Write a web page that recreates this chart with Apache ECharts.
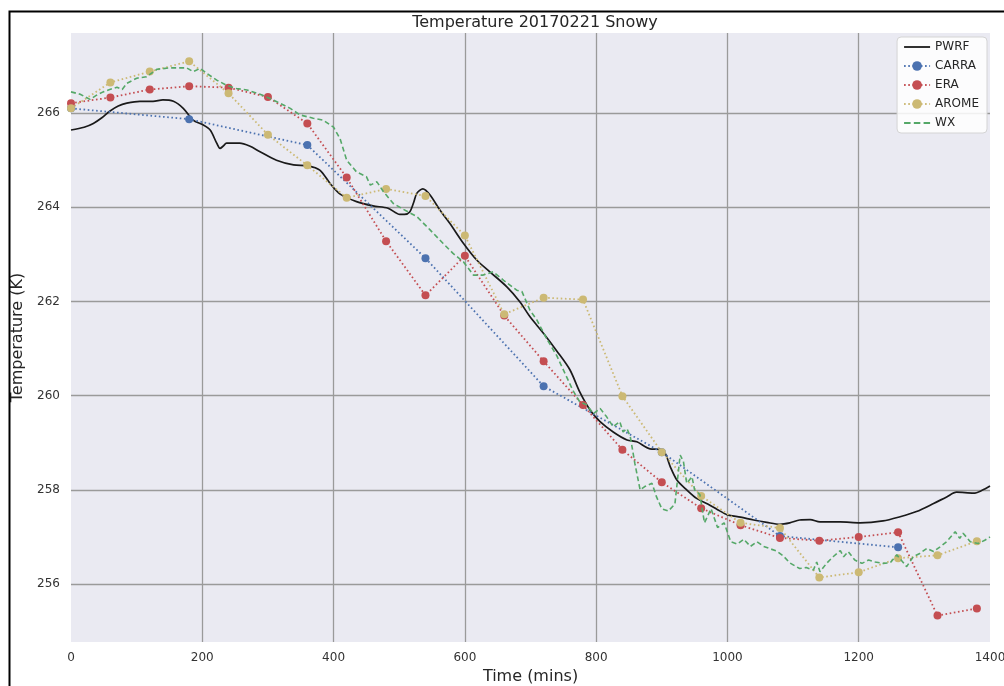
<!DOCTYPE html>
<html><head><meta charset="utf-8">
<script src="https://cdn.jsdelivr.net/npm/echarts@6/dist/echarts.min.js"></script>
<style>html,body{margin:0;padding:0;background:#fff;overflow:hidden;}#c{width:1004px;height:686px;}</style>
</head><body><div id="c"></div>
<script>
const xTicks = [0,200,400,600,800,1000,1200,1400];
const yTicks = [256,258,260,262,264,266];

const pwrfTime = [0,20,34,47,59,72,85,105,125,140,156,171,186,201,212,222,227,232,237,257,272,288,313,339,361,379,395,410,435,460,483,501,508,516,522,527,536,547,562,577,598,618,638,664,684,699,720,740,760,775,791,806,826,847,862,882,897,905,913,923,938,953,970,985,1000,1020,1040,1060,1080,1095,1110,1126,1141,1172,1202,1237,1263,1288,1314,1334,1349,1375,1388,1400];
const pwrfTemp = [265.64,265.7,265.78,265.9,266.04,266.15,266.21,266.25,266.25,266.28,266.25,266.1,265.85,265.75,265.64,265.36,265.25,265.3,265.36,265.36,265.3,265.18,265.0,264.9,264.88,264.79,264.5,264.28,264.12,264.03,263.98,263.85,263.85,263.9,264.1,264.3,264.39,264.26,263.94,263.66,263.23,262.88,262.63,262.31,261.99,261.68,261.32,260.95,260.55,260.08,259.69,259.45,259.23,259.06,259.02,258.87,258.86,258.78,258.49,258.21,258.0,257.82,257.7,257.58,257.47,257.42,257.36,257.31,257.27,257.3,257.36,257.37,257.32,257.32,257.3,257.34,257.43,257.54,257.71,257.85,257.95,257.93,257.99,258.08];

const carraTime = [0,180,360,540,720,900,1080,1260];
const carraTemp = [266.1,265.87,265.32,262.92,260.2,258.8,257.02,256.78];

const eraTime = [0,60,120,180,240,300,360,420,480,540,600,660,720,780,840,900,960,1020,1080,1140,1200,1260,1320,1380];
const eraTemp = [266.21,266.33,266.5,266.57,266.54,266.34,265.78,264.63,263.28,262.13,262.97,261.7,260.73,259.8,258.85,258.16,257.61,257.25,256.98,256.92,257.0,257.1,255.33,255.48];

const aromeTime = [0,60,120,180,240,300,360,420,480,540,600,660,720,780,840,900,960,1020,1080,1140,1200,1260,1320,1380];
const aromeTemp = [266.1,266.65,266.88,267.1,266.42,265.54,264.89,264.2,264.39,264.24,263.4,261.73,262.08,262.04,259.99,258.8,257.87,257.3,257.19,256.14,256.25,256.55,256.61,256.91];

const wxTime = [0,14,29,39,49,59,70,78,85,100,115,131,151,176,186,197,207,222,237,252,268,288,303,318,334,349,369,384,400,410,420,435,450,456,466,476,491,506,527,547,567,582,598,613,628,643,659,679,687,699,710,725,740,755,765,775,786,796,806,816,826,836,841,847,852,859,867,874,885,892,900,910,920,928,933,938,946,950,958,965,975,985,995,1005,1015,1025,1035,1045,1055,1065,1075,1085,1095,1110,1120,1131,1136,1141,1151,1161,1172,1177,1184,1194,1205,1215,1225,1237,1248,1258,1273,1283,1293,1304,1314,1324,1334,1347,1354,1359,1370,1382,1392,1400];
const wxTemp = [266.45,266.4,266.29,266.38,266.45,266.5,266.55,266.5,266.63,266.74,266.77,266.93,266.96,266.96,266.88,266.95,266.84,266.7,266.59,266.52,266.49,266.4,266.31,266.21,266.1,265.96,265.89,265.85,265.7,265.45,265.0,264.75,264.65,264.47,264.54,264.33,264.08,263.96,263.8,263.52,263.23,263.02,262.84,262.56,262.56,262.63,262.45,262.24,262.21,261.82,261.6,261.2,260.85,260.4,260.1,259.87,259.8,259.62,259.73,259.55,259.34,259.45,259.23,259.3,259.13,258.56,258.0,258.07,258.14,257.85,257.6,257.55,257.7,258.74,258.6,258.14,258.28,258.0,257.9,257.3,257.6,257.2,257.3,256.9,256.85,256.95,256.8,256.9,256.8,256.75,256.7,256.6,256.45,256.33,256.35,256.3,256.47,256.26,256.44,256.58,256.71,256.58,256.69,256.51,256.44,256.51,256.47,256.44,256.45,256.62,256.37,256.58,256.65,256.76,256.69,256.79,256.9,257.11,256.97,257.08,256.9,256.86,256.93,257.0];

const zip = (a, b) => a.map((v, i) => [v, b[i]]);
const FONT = 'DejaVu Sans';

const chart = echarts.init(document.getElementById('c'), null, {renderer: 'canvas'});
const dotted = (name, color, t, v) => ({
  name, type: 'line', data: zip(t, v), showSymbol: true, symbol: 'circle', symbolSize: 8,
  itemStyle: {color}, lineStyle: {color, width: 1.8, type: [1.6, 2.6]}, animation: false, z: 3
});
chart.setOption({
  animation: false,
  backgroundColor: '#fff',
  title: {text: 'Temperature 20170221 Snowy', left: 530, top: 10, textAlign: 'center',
    textStyle: {fontFamily: FONT, fontSize: 16, fontWeight: 'normal', color: '#262626'}},
  grid: {left: 71, right: 14, top: 33, bottom: 44, show: true, backgroundColor: '#EAEAF2', borderWidth: 0,
    containLabel: false, outerBoundsMode: 'none'},
  legend: {
    orient: 'vertical', right: 17, top: 37, itemWidth: 26, itemHeight: 12, itemGap: 7,
    backgroundColor: 'rgba(255,255,255,0.85)', borderColor: '#d4d4d4', borderWidth: 1, borderRadius: 4,
    padding: [4, 8, 4, 6],
    textStyle: {fontFamily: FONT, fontSize: 12, color: '#262626'},
    data: [
      {name: 'PWRF', icon: 'path://M0,0 L26,0 L26,1.8 L0,1.8 Z'},
      'CARRA', 'ERA', 'AROME',
      {name: 'WX', icon: 'path://M0,0h6.5v1.8h-6.5z M9.75,0h6.5v1.8h-6.5z M19.5,0h6.5v1.8h-6.5z'}
    ]
  },
  xAxis: {
    type: 'value', min: xTicks[0], max: xTicks[xTicks.length - 1], interval: 200,
    name: 'Time (mins)', nameLocation: 'middle', nameGap: 27,
    nameTextStyle: {fontFamily: FONT, fontSize: 16, color: '#262626'},
    axisLine: {show: false}, axisTick: {show: false},
    axisLabel: {fontFamily: FONT, fontSize: 12, color: '#333', margin: 10, formatter: v => String(v)},
    splitLine: {show: true, showMinLine: false, showMaxLine: false, lineStyle: {color: '#9a9a9a', width: 1.3}}
  },
  yAxis: {
    type: 'value', min: 254.77, max: 267.7, minInterval: 2, maxInterval: 2,
    name: 'Temperature (K)', nameLocation: 'middle', nameGap: 40, nameRotate: 90,
    nameTextStyle: {fontFamily: FONT, fontSize: 16, color: '#262626'},
    axisLine: {show: false}, axisTick: {show: false},
    axisLabel: {fontFamily: FONT, fontSize: 12, color: '#333', margin: 11, showMinLabel: false, showMaxLabel: false,
      formatter: v => (yTicks.indexOf(Math.round(v * 100) / 100) >= 0 ? String(v) : '')},
    splitLine: {show: true, showMinLine: false, showMaxLine: false, lineStyle: {color: '#9a9a9a', width: 1.3}}
  },
  graphic: [{type: 'rect', left: 7, top: 9, shape: {x: 0, y: 0, width: 1100, height: 800},
    style: {fill: 'none', stroke: '#000', lineWidth: 2}, silent: true, z: 100}],
  series: [
    {name: 'PWRF', type: 'line', data: zip(pwrfTime, pwrfTemp), showSymbol: false, symbol: 'none', smooth: 0.3,
      itemStyle: {color: '#1a1a1a'}, lineStyle: {color: '#1a1a1a', width: 1.7}, z: 2},
    dotted('CARRA', '#4C72B0', carraTime, carraTemp),
    dotted('ERA', '#C44E52', eraTime, eraTemp),
    dotted('AROME', '#CCB974', aromeTime, aromeTemp),
    {name: 'WX', type: 'line', data: zip(wxTime, wxTemp), showSymbol: false, symbol: 'none',
      itemStyle: {color: '#55A868'}, lineStyle: {color: '#55A868', width: 1.6, type: [5, 3]}, z: 4}
  ]
});
</script></body></html>
